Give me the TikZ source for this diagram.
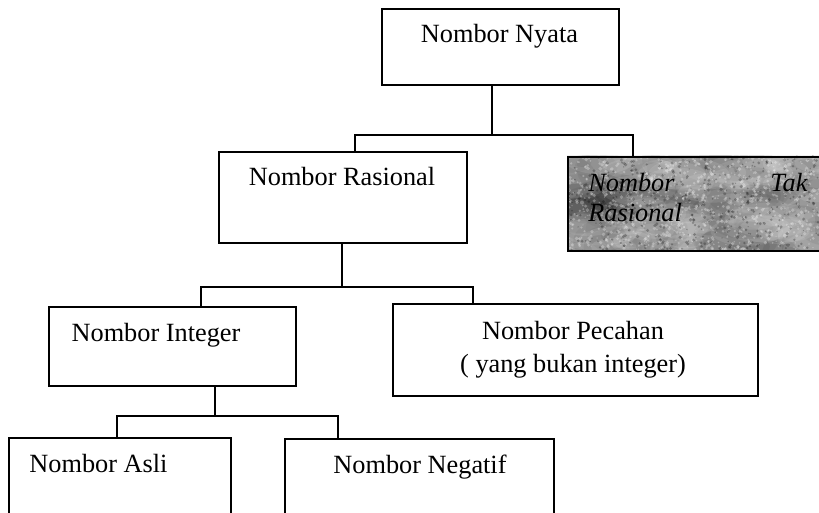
\documentclass[tikz,border=0pt]{standalone}
\usepackage{fontspec}
\setmainfont{Liberation Serif}
\begin{document}
\begin{tikzpicture}[x=0.5pt,y=-0.5pt,
  box/.style={draw=black, line width=1.1pt, rectangle, inner sep=0pt, anchor=north west},
  txt/.style={inner sep=0pt, font=\fontsize{13.15}{16.5}\selectfont},
  conn/.style={draw=black, line width=1.1pt}]
\useasboundingbox (0,0) rectangle (819,513);
\fill[white] (0,0) rectangle (819,513);

% textured grey box background
\fill[black!40] (567,156) rectangle (830,250);
\begin{scope}
  \clip (567,156) rectangle (830,250);
  \pgfmathsetseed{7}
  \foreach \i in {1,...,60}{
    \pgfmathsetmacro\rx{567+263*rnd}
    \pgfmathsetmacro\ry{156+94*rnd}
    \pgfmathsetmacro\rr{10+20*rnd}
    \fill[black, opacity=0.07] (\rx,\ry) ellipse[x radius=1.6*\rr, y radius=\rr];
  }
  \foreach \i in {1,...,60}{
    \pgfmathsetmacro\rx{567+263*rnd}
    \pgfmathsetmacro\ry{156+94*rnd}
    \pgfmathsetmacro\rr{6+12*rnd}
    \fill[white, opacity=0.10] (\rx,\ry) ellipse[x radius=2.5*\rr, y radius=\rr];
  }
  \foreach \i in {1,...,1000}{
    \pgfmathsetmacro\rx{567+263*rnd}
    \pgfmathsetmacro\ry{156+94*rnd}
    \pgfmathsetmacro\rr{0.6+1.4*rnd}
    \fill[white, opacity=0.28] (\rx,\ry) circle[radius=\rr];
  }
  \foreach \i in {1,...,500}{
    \pgfmathsetmacro\rx{567+263*rnd}
    \pgfmathsetmacro\ry{156+94*rnd}
    \pgfmathsetmacro\rr{0.6+1.2*rnd}
    \fill[black, opacity=0.25] (\rx,\ry) circle[radius=\rr];
  }
\end{scope}

% boxes
\node[box, minimum width=118.5pt, minimum height=38pt] (nyata) at (381,8) {};
\node[box, minimum width=124pt, minimum height=45.5pt] (rasional) at (218,151) {};
\node[box, minimum width=131.5pt, minimum height=47pt] (tak) at (567,156) {};
\node[box, minimum width=123.5pt, minimum height=39.5pt] (integer) at (48,306) {};
\node[box, minimum width=182.5pt, minimum height=46pt] (pecahan) at (392,303) {};
\node[box, minimum width=111pt, minimum height=46.5pt] (asli) at (8,437) {};
\node[box, minimum width=134.5pt, minimum height=46pt] (negatif) at (284,438) {};

% texts
\node[txt] (tnyata) at (499.5,36) {Nombor Nyata};
\node[txt] (trasional) at (342,177) {Nombor Rasional};
\node[txt, anchor=base west, text width=109.5pt, align=justify,
      font=\fontsize{13.15}{15}\selectfont\itshape] (ttak) at (588,192)
      {\hyphenpenalty=10000 \mbox{Nombor} \mbox{Tak} \mbox{Rasional}};
\node[txt] (tinteger) at (156,335) {Nombor Integer};
\node[txt, anchor=base, align=center] (tpecahan) at (573,372) {Nombor Pecahan\\( yang bukan integer)};
\node[txt, anchor=base] (tasli) at (98.5,472) {Nombor Asli};
\node[txt, anchor=base] (tnegatif) at (420,473) {Nombor Negatif};

% junctions
\coordinate (j1) at (492,135);
\coordinate (j2) at (342,287);
\coordinate (j3) at (215,416);
\coordinate (ra) at (355,151);
\coordinate (ta) at (633,156);
\coordinate (ia) at (201,306);
\coordinate (pa) at (473,303);
\coordinate (aa) at (117,437);
\coordinate (na) at (338,438);

% connectors
\draw[conn] (nyata.south -| j1) -- (j1);
\draw[conn] (ra) |- (j1) -| (ta);
\draw[conn] (rasional.south -| j2) -- (j2);
\draw[conn] (ia) |- (j2) -| (pa);
\draw[conn] (integer.south -| j3) -- (j3);
\draw[conn] (aa) |- (j3) -| (na);
\end{tikzpicture}
\end{document}
